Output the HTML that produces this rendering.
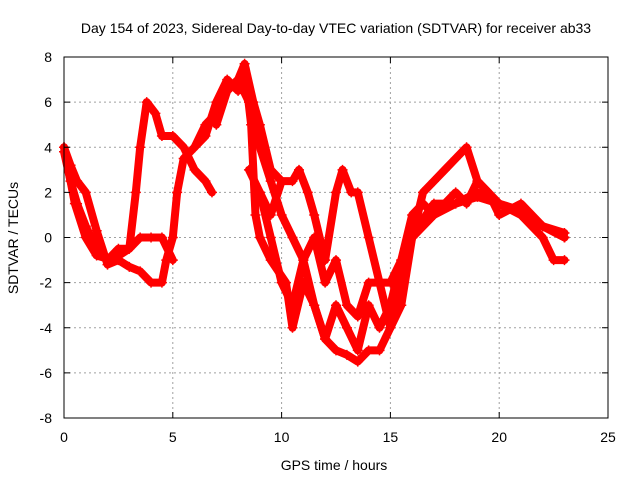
<!DOCTYPE html>
<html><head><meta charset="utf-8"><style>
body{margin:0;background:#fff;}
svg{display:block;font-family:"Liberation Sans",sans-serif;}
</style></head><body>
<svg id="chart" width="640" height="480">
<text x="336" y="33" font-size="14" text-anchor="middle">Day 154 of 2023, Sidereal Day-to-day VTEC variation (SDTVAR) for receiver ab33</text>
<text x="334" y="470" font-size="14" text-anchor="middle">GPS time / hours</text>
<text transform="translate(18,238) rotate(-90)" font-size="14" text-anchor="middle">SDTVAR / TECUs</text>
<g id="grid"></g>
<g id="series"></g>
<rect x="64" y="57" width="544" height="361" fill="none" stroke="#000" stroke-width="1"/>
<g id="ticks"></g>
</svg>
<script>
const xTicks=[0,5,10,15,20,25];
const yTicks=[-8,-6,-4,-2,0,2,4,6,8];
const t1=[0,0.3,0.6,1,1.5,2,2.5,3,3.5,4,4.5,4.7,5,5.2,5.5,6,6.5,7,7.5,8,8.3,8.7,9,9.5,10];
const v1=[4,3.2,2.5,2,0.3,-1.2,-1,-1.3,-1.5,-2,-2,-1,0,2,3.5,4,5,5.5,6.5,7,7.7,6,5,3,2.5];
const t2=[0,0.3,0.6,1,1.5,2,2.5,3,3.3,3.5,3.8,4.2,4.5,5,5.5,6,6.5,6.8];
const v2=[3.8,2.5,1.5,0.5,-0.5,-1,-0.5,-0.5,2,4,6,5.5,4.5,4.5,4,3,2.5,2];
const t3=[0,0.5,1,1.5,2.2,3,3.5,4,4.5,5];
const v3=[4,1.5,0,-0.8,-1,-0.5,0,0,0,-1];
const t4=[6,6.5,7,7.5,8,8.3,8.6,8.8,9,9.5,10.2,10.5,11,11.5,12,12.5,13,13.5,14,14.5,15,15.5,16,17,18,19,20,21,22,23];
const v4=[4,4.5,6,7,6.5,7.5,5,1,0,-1,-2,-4,-2,-3,-4.5,-5,-5.2,-5.5,-5,-5,-4,-2,0,1,1.5,2,1.5,1,0.5,0];
const t5=[8.5,9,9.5,10,10.5,10.8,11.2,11.5,12,12.5,12.8,13.2,13.5,14,14.5,15,15.5,16,16.5,17,17.5,18,18.5,19,20,21,22,22.5,23];
const v5=[3,2,1,2.5,2.5,3,2,1,-1,2,3,2,2,0,-2,-4,-3,0,2,2.5,3,3.5,4,2.5,1.5,1,0,-1,-1];
const t6=[9,9.5,10,10.5,11,11.5,12,12.5,13,13.5,14,14.5,15,15.5,16,16.5,17,17.5,18,18.5,19,19.5,20,21,22,23];
const v6=[2,0,-2,-3,-1,-3,-4.5,-3,-4,-5,-3,-4,-3,-1,1,1.5,1,1.5,2,1.5,2.5,2,1,1.5,0.5,0];
const t7=[7,7.5,8,8.5,9,9.5,10,10.5,11,11.5,12,12.5,13,13.5,14,15,15.5,16,16.5,17,18,19,20,21,22,23];
const v7=[5,6.5,7,6,4,2.5,1,0,-1,0,-2,-1,-3,-3.5,-2,-2,-1,0,0.8,1.5,1.5,1.8,1.5,1.2,0.5,0.2];
const seriesT=[t1,t2,t3,t4,t5,t6,t7];
const seriesV=[v1,v2,v3,v4,v5,v6,v7];
const X=t=>64+t*544/25, Y=v=>237.5-v*361/16;
const NS="http://www.w3.org/2000/svg";
const grid=document.getElementById('grid'),ticks=document.getElementById('ticks'),ser=document.getElementById('series');
function mk(tag,a,p){const e=document.createElementNS(NS,tag);for(const k in a)e.setAttribute(k,a[k]);p.appendChild(e);return e;}
xTicks.forEach(t=>{
 const g=mk('line',{x1:X(t),x2:X(t),y1:57,y2:418,stroke:'#a0a0a0','stroke-dasharray':'2,3'},grid);
 
 
 mk('line',{x1:X(t),x2:X(t),y1:418,y2:412,stroke:'#000'},ticks);
 mk('line',{x1:X(t),x2:X(t),y1:57,y2:63,stroke:'#000'},ticks);
 const l=mk('text',{x:X(t),y:442,'font-size':14,'text-anchor':'middle'},ticks);l.textContent=t;
 
 
});
yTicks.forEach(v=>{
 const g=mk('line',{x1:64,x2:608,y1:Y(v),y2:Y(v),stroke:'#a0a0a0','stroke-dasharray':'2,3'},grid);
 
 
 mk('line',{x1:64,x2:70,y1:Y(v),y2:Y(v),stroke:'#000'},ticks);
 mk('line',{x1:602,x2:608,y1:Y(v),y2:Y(v),stroke:'#000'},ticks);
 const l=mk('text',{x:52,y:Y(v)+5,'font-size':14,'text-anchor':'end'},ticks);l.textContent=v;
 
 
});
seriesT.forEach((ts,i)=>{
 const vs=seriesV[i];
 const pts=ts.map((t,j)=>X(t)+','+Y(vs[j])).join(' ');
 const pl=mk('polyline',{points:pts,fill:'none',stroke:'#ff0000','stroke-width':8,'stroke-linejoin':'round','stroke-linecap':'round'},ser);
 
 
 ts.forEach((t,j)=>{
  const x=X(t),y=Y(vs[j]);
  const p=mk('path',{d:`M${x-5},${y}h10M${x},${y-5}v10`,stroke:'#ff0000','stroke-width':1.5},ser);
  
  
 });
});
</script>
</body></html>
